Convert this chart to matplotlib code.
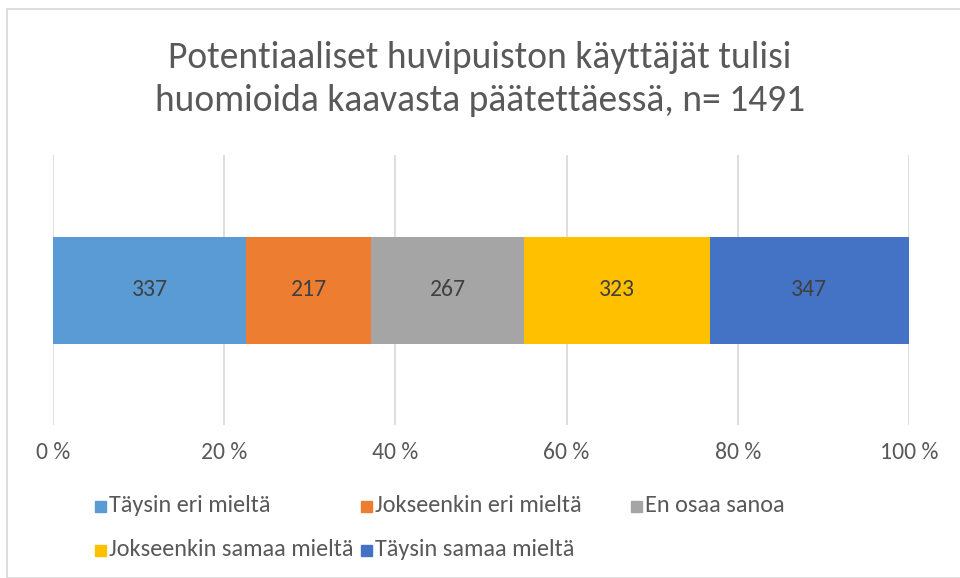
import matplotlib.pyplot as plt
from matplotlib.patches import Rectangle
from matplotlib.ticker import FuncFormatter

labels = ["Täysin eri mieltä", "Jokseenkin eri mieltä", "En osaa sanoa",
          "Jokseenkin samaa mieltä", "Täysin samaa mieltä"]
counts = [337, 217, 267, 323, 347]
colors = ["#5B9BD5", "#ED7D31", "#A5A5A5", "#FFC000", "#4472C4"]
title = "Potentiaaliset huvipuiston käyttäjät tulisi\nhuomioida kaavasta päätettäessä, n= 1491"

total = sum(counts)
fam = ["Carlito", "Lato", "DejaVu Sans"]
txt = "#595959"
W, H = 960, 578

fig = plt.figure(figsize=(9.6, 5.78), dpi=100)
fig.patches.append(Rectangle((7 / W, 0), 1.2, (H - 9) / H, transform=fig.transFigure,
                             fill=False, edgecolor="#d9d9d9", lw=1.2, figure=fig))
ax = fig.add_axes([53 / W, 1 - 425 / H, (909 - 53) / W, 270 / H])

left = 0.0
for lab, c, col in zip(labels, counts, colors):
    w = c / total
    ax.barh(0, w, left=left, height=107 / 270, color=col, label=lab, zorder=3)
    ax.text(left + w / 2, 0, str(c), ha="center", va="center", fontsize=17,
            family=fam, color="#404040", zorder=4)
    left += w

ax.set_xlim(0, 1)
ax.set_ylim(-0.5, 0.5)
ax.set_yticks([])
ax.set_xticks([0, 0.2, 0.4, 0.6, 0.8, 1.0])
ax.xaxis.set_major_formatter(FuncFormatter(lambda v, p: "%d %%" % round(v * 100)))
ax.grid(axis="x", color="#d9d9d9", lw=1.2, zorder=0)
ax.tick_params(axis="x", length=0, pad=12, labelsize=17, labelcolor=txt)
for lbl in ax.get_xticklabels():
    lbl.set_family(fam)
for s in ax.spines.values():
    s.set_visible(False)

fig.text(0.5, 1 - 79 / H, title, ha="center", va="center", fontsize=27,
         family=fam, color=txt, linespacing=1.38)

# legend laid out like Excel: three equal columns, row-major
col_x = [95, 361, 631]
row_y = [506, 550]
sq = 11
for i, (lab, col) in enumerate(zip(labels, colors)):
    r, c = divmod(i, 3)
    x, y = col_x[c], row_y[r]
    fig.patches.append(Rectangle((x / W, 1 - (y + sq / 2) / H), sq / W, sq / H,
                                 transform=fig.transFigure, color=col, figure=fig))
    fig.text((x + sq + 3) / W, 1 - y / H, lab, ha="left", va="center",
             fontsize=17.5, family=fam, color=txt)

fig.savefig("out.png", dpi=100)
